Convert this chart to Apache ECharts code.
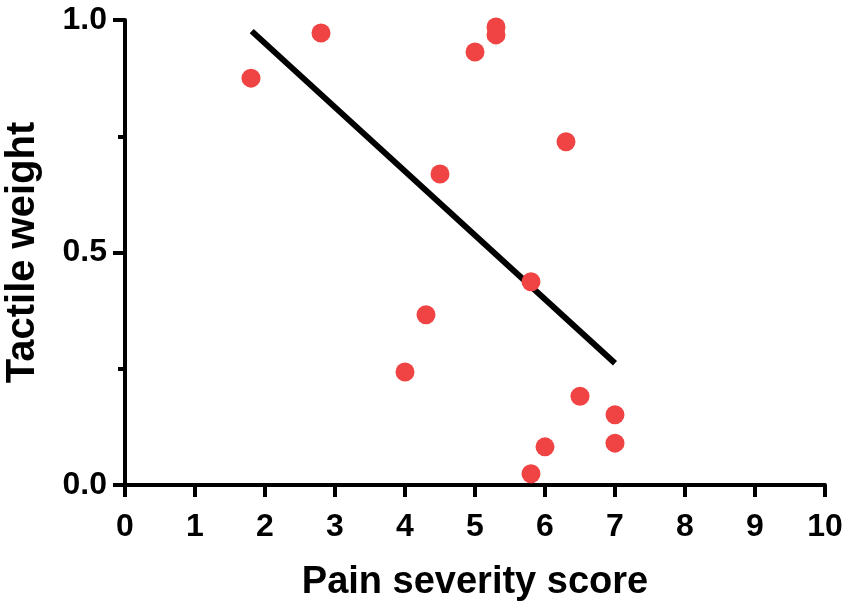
<!DOCTYPE html>
<html>
<head>
<meta charset="utf-8">
<script src="https://cdn.jsdelivr.net/npm/echarts@6/dist/echarts.min.js"></script>
<style>
  html, body { margin: 0; padding: 0; background: #fff; }
  #chart { width: 851px; height: 610px; }
</style>
</head>
<body>
<div id="chart"></div>
<script>
// pain severity vs tactile weight
var painScore = [1.8, 2.8, 5.3, 5.3, 5.0, 6.3, 4.5, 5.8, 4.3, 4.0, 6.5, 7.0, 7.0, 6.0, 5.8];
var tactileWeight = [0.875, 0.972, 0.985, 0.968, 0.931, 0.738, 0.669, 0.437, 0.366, 0.243, 0.191, 0.151, 0.090, 0.082, 0.024];

// regression line end points
var fitX = [1.81, 7.0];
var fitY = [0.976, 0.262];

var chart = echarts.init(document.getElementById('chart'));

var points = painScore.map(function (x, i) { return [x, tactileWeight[i]]; });
var fitLine = fitX.map(function (x, i) { return [x, fitY[i]]; });

var font = 'Liberation Sans';

option = {
    animation: false,
    grid: { left: 125, right: 26, top: 20, bottom: 125, containLabel: false, outerBoundsMode: 'none' },
    xAxis: {
        type: 'value',
        min: 0,
        max: 10,
        interval: 1,
        name: 'Pain severity score',
        nameLocation: 'middle',
        nameGap: 79,
        nameTextStyle: { fontFamily: font, fontWeight: 'bold', fontSize: 38, color: '#000' },
        axisLine: { show: true, lineStyle: { color: '#000', width: 4 } },
        axisTick: { show: true, length: 12, lineStyle: { color: '#000', width: 4 } },
        axisLabel: { margin: 26, fontFamily: font, fontWeight: 'bold', fontSize: 32, color: '#000' },
        splitLine: { show: false }
    },
    yAxis: {
        type: 'value',
        min: 0,
        max: 1,
        interval: 0.5,
        name: 'Tactile weight',
        nameLocation: 'middle',
        nameGap: 82,
        nameTextStyle: { fontFamily: font, fontWeight: 'bold', fontSize: 40, color: '#000' },
        axisLine: { show: true, lineStyle: { color: '#000', width: 4 } },
        axisTick: { show: true, length: 12, lineStyle: { color: '#000', width: 4 } },
        minorTick: { show: true, splitNumber: 2, length: 7, lineStyle: { color: '#000', width: 4 } },
        axisLabel: {
            margin: 18, fontFamily: font, fontWeight: 'bold', fontSize: 32, color: '#000',
            formatter: function (v) { return v.toFixed(1); }
        },
        splitLine: { show: false }
    },
    series: [
        {
            name: 'fit',
            type: 'line',
            data: fitLine,
            symbol: 'none',
            lineStyle: { color: '#000', width: 6 },
            z: 2
        },
        {
            name: 'subjects',
            type: 'scatter',
            data: points,
            symbolSize: 19,
            itemStyle: { color: '#f04343', opacity: 1 },
            z: 3
        }
    ]
};

chart.setOption(option);
</script>
</body>
</html>
